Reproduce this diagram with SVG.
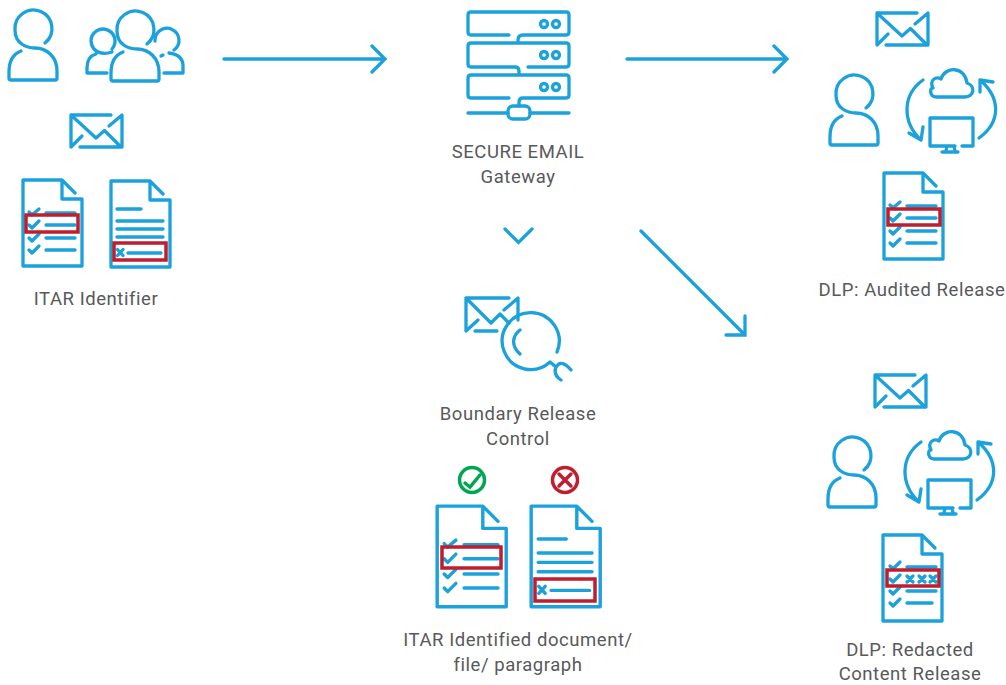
<svg xmlns="http://www.w3.org/2000/svg" xmlns:xlink="http://www.w3.org/1999/xlink" width="1006" height="685" viewBox="0 0 1006 685">
<style>
.i{fill:none;stroke:#1ba1db;stroke-width:3.300;stroke-linecap:round;stroke-linejoin:round}
.d{stroke-width:2.900}
.a{fill:none;stroke:#1ba1db;stroke-width:3.300;stroke-linecap:round;stroke-linejoin:miter}
.r{fill:none;stroke:#be1e2d;stroke-width:3.500}
.g{fill:none;stroke:#00a651;stroke-width:3.500;stroke-linecap:round}
.x{fill:none;stroke:#be1e2d;stroke-width:3.500;stroke-linecap:round}
text{font-family:"Roboto","Liberation Sans",sans-serif;font-size:18.500px;letter-spacing:.55px;fill:#58595b;text-anchor:middle}
</style>
<defs>
<g id="person"><path d="M21,51C13,54 9,62 9,72V78Q9,80 11,80H55Q57,80 57,78V71C57,57 47,48 35,48C27,48 15,44 15,30A18.500,18.500 0 1 1 45,43"/></g>
<g id="env"><path d="M41,1H1V33L12,22M1,1L26,24L34.500,16.500L51,33H10M39,12L52,1V33"/></g>
<g id="cycle"><path d="M923,80C902,95 902,122 921,140M909,133L921,140L923,127M979,138C1001,122 1001,98 980,80M980,80L980,92M980,80L993,82"/><path d="M933,88C929,80 936,76 941,79C945,66 965,66 967,83C976,86 974,97 965,97H936C931,97 930,92 931,89"/><path d="M962,146H973V118H930V146H955M947,146L946,151M954,146L955,151M942,152H958"/></g>
<g id="page"><path d="M40,1H1V87H60V20H40V1L53,14"/></g>
<g id="docA"><use xlink:href="#page"/><path d="M24,34H53M24,46H53M24,59H53M24,71H53M7,33L10,36L17,30M7,46L10,49L17,42M7,59L10,62L17,55M7,71L10,74L17,67"/></g>
<g id="docB"><use xlink:href="#page"/><path d="M7,29H31M7,41H53M7,49H53M7,57H53M18,73H51M7.500,69.500L13,75.500M13,69.500L7.500,75.500"/></g>
</defs>
<g id="connectors">
<path class="a" d="M224,59H385M372,46L385,59L372,72"/>
<path class="a" d="M627,59H787M774,46L787,59L774,72"/>
<path class="a" d="M641,231L745,335M745,316V335H726"/>
<path class="a" d="M505,229L518.500,242.500L532,229"/>
</g>
<g id="itar-identifier">
<use class="i" xlink:href="#person"/>
<use class="i" xlink:href="#person" x="102" y="1"/>
<path class="i" d="M96,54C89,56 87,62 87,68V73H107M112,52C103,55 92,53 91,41A12,12 0 1 1 112,49M155,41A12,12 0 1 1 174,50M163,55L161,56M164,73H183V66C183,58 177,54 169,53"/>
<use class="i" xlink:href="#env" x="70" y="114"/>
<use class="i" xlink:href="#docA" x="22" y="179"/>
<rect class="r" x="26" y="215" width="52" height="17"/>
<use class="i" xlink:href="#docB" x="110" y="180"/>
<rect class="r" x="114" y="243" width="52" height="17"/>
<text x="96" y="305">ITAR Identifier</text>
</g>
<g id="gateway">
<path class="i" d="M509,35H471Q468,35 468,32V15Q468,12 471,12H566Q569,12 569,15V32Q569,35 566,35H523Q518,35 518,40V43M515,67H471Q468,67 468,64V46Q468,43 471,43H566Q569,43 569,46V64Q569,67 566,67H528M515,67Q519,67 519,71V75M509,98H471Q468,98 468,95V78Q468,75 471,75H566Q569,75 569,78V95Q569,98 566,98H523Q519,98 519,102V106M468,113H508M530,113H569"/>
<rect class="i" x="508" y="106" width="22" height="13" rx="5"/>
<circle class="i" cx="544" cy="24" r="3.500"/><circle class="i" cx="556" cy="24" r="3.500"/>
<circle class="i" cx="544" cy="55" r="3.500"/><circle class="i" cx="556" cy="55" r="3.500"/>
<circle class="i" cx="544" cy="87" r="3.500"/><circle class="i" cx="556" cy="87" r="3.500"/>
<text x="518" y="158">SECURE EMAIL</text>
<text x="518" y="183">Gateway</text>
</g>
<g id="audited-release">
<use class="i" xlink:href="#env" x="876" y="12"/>
<use class="i" xlink:href="#person" x="821" y="65"/>
<use class="i" xlink:href="#cycle"/>
<use class="i" xlink:href="#docA" x="883" y="172"/>
<rect class="r" x="888" y="209" width="52" height="16"/>
<text x="912" y="296">DLP: Audited Release</text>
</g>
<g id="boundary-release">
<path class="i" d="M509,298H466V331L478,320M466,298L491,323L500,314L509,323M475,331H497M504,310L518,298V320"/>
<path class="i" d="M557,352A28.500,28.500 0 1 0 550,362L556,367C560,361 565,363 571,370M556,367C554,372 555,376 561,380M520,330C512,336 511,346 520,354"/>
<text x="518" y="420">Boundary Release</text>
<text x="518" y="445">Control</text>
</g>
<g id="identified-document">
<circle class="g" cx="472" cy="480" r="12.500"/><path class="g" d="M465,483L470,487L480,475"/>
<circle class="x" cx="565" cy="480" r="12.500"/><path class="x" d="M559,474L571,486M571,474L559,486"/>
<use class="i d" xlink:href="#docA" transform="translate(436,505) scale(1.170)"/>
<rect class="r" x="442" y="547" width="59" height="21"/>
<use class="i d" xlink:href="#docB" transform="translate(530,505) scale(1.170)"/>
<rect class="r" x="535" y="579" width="60" height="22"/>
<text x="518" y="646">ITAR Identified document/</text>
<text x="518" y="671">file/ paragraph</text>
</g>
<g id="redacted-release">
<use class="i" xlink:href="#env" x="874" y="374"/>
<use class="i" xlink:href="#person" x="819" y="427"/>
<use class="i" xlink:href="#cycle" x="-2" y="362"/>
<use class="i" xlink:href="#page" x="882" y="534"/>
<path class="i" d="M907,567H936M907,591H936M907,603H932M890,566L893,569L900,562M890,579L893,582L900,575M890,591L893,594L900,587M890,603L893,606L900,599M907,576L913,582M913,576L907,582M919,576L925,582M925,576L919,582M930,576L936,582M936,576L930,582"/>
<rect class="r" x="887" y="570" width="52" height="16"/>
<text x="910" y="656">DLP: Redacted</text>
<text x="910" y="680">Content Release</text>
</g>
</svg>
